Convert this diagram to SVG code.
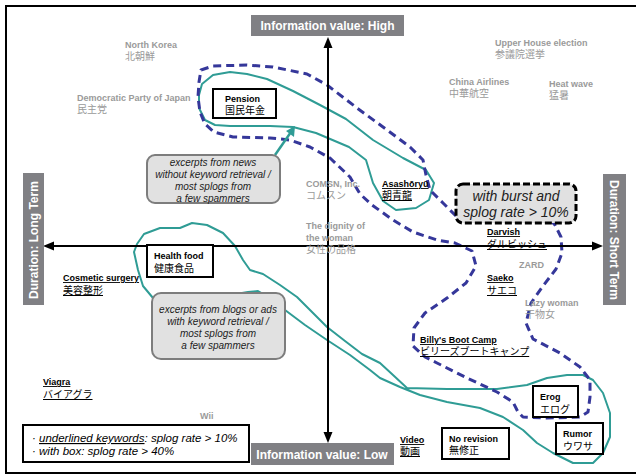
<svg xmlns="http://www.w3.org/2000/svg" width="636" height="475" viewBox="0 0 636 475">
<style>
text{font-family:"Liberation Sans","Noto Sans CJK JP",sans-serif}
.ge{font-size:9px;font-weight:bold;fill:#9a9a9a}
.gj{font-size:10px;fill:#9a9a9a}
.be{font-size:9px;font-weight:bold;fill:#000}
.bj{font-size:10px;fill:#000}
.u{text-decoration:underline}
.ax{fill:#808084}
.axt{font-size:12px;font-weight:bold;fill:#fff}
.box{fill:#fff;stroke:#000;stroke-width:2}
.call{fill:#e1e1e1;stroke:#7d7d7d;stroke-width:2}
.ct{font-size:10px;font-style:italic;fill:#222;text-anchor:middle}
.teal{fill:none;stroke:#2f9c95;stroke-width:2;stroke-linejoin:round}
.dash{fill:none;stroke:#35379a;stroke-width:3;stroke-dasharray:8 5;stroke-linejoin:round}
</style>
<rect x="6" y="6" width="640" height="467" fill="#fff" stroke="#000" stroke-width="2"/>
<g id="connectors">
<path class="teal" d="M199,95 L202,84 L213,75 L230,72 L247,74 L267,79 L293,91 L320,105 L346,119 L373,140 L403,158 L426,170 L434,183 L429,200 L416,208 L396,210 L383,201 L373,183 L366,160 L349,147 L316,133 L293,127 L270,126 L230,126 L215,125 L205,120 L199,108 Z"/>
<path class="teal" d="M134,252 L137,244 L144,234 L160,228 L180,228 L192,223 L207,225 L223,233 L235,246 L243,260 L250,270 L263,274 L280,285 L297,297 L312,312 L327,327 L345,341 L362,354 L380,363 L393,375 L407,388 L447,389 L497,389 L527,385 L547,378 L567,375 L583,375 L593,380 L603,393 L610,413 L610,437 L603,453 L593,463 L573,463 L553,453 L537,443 L523,430 L503,417 L480,408 L447,402 L420,395 L400,387 L380,378 L370,370 L350,355 L327,340 L305,325 L285,310 L270,298 L258,291 L248,292 L200,300 L153,298 L143,286 L138,270 Z"/>
<path class="dash" d="M456,216 L443,203 L430,190 L426,175 L423,160 L410,147 L383,127 L357,108 L327,85 L307,74 L273,67 L247,65 L213,66 L201,70 L199,82 L198,97 L200,112 L205,124 L214,132 L233,137 L270,138 L290,140 L310,147 L330,158 L350,177 L360,194 L372,205 L393,220 L413,232 L437,240 L455,243 L472,251 L476,266 L466,283 L447,298 L425,313 L414,328 L413,346 L425,357 L437,363 L467,378 L497,392 L513,402 L518,412 L523,417 L547,418 L580,417 L588,412 L590,397 L590,380 L580,367 L560,353 L533,339 L526,323 L531,303 L543,286 L556,269 L562,253 L561,237 L555,225 L552,222 Z"/>
<line x1="275" y1="155" x2="291" y2="132" stroke="#2f9c95" stroke-width="2.5"/>
<polygon points="295,126 294,137 286,131" fill="#2f9c95"/>
<line x1="50" y1="246" x2="596" y2="246" stroke="#000" stroke-width="2"/>
<polygon points="43,246 54,241.5 54,250.5" fill="#000"/>
<polygon points="603,246 592,241.5 592,250.5" fill="#000"/>
<line x1="328" y1="44" x2="328" y2="436" stroke="#000" stroke-width="2"/>
<polygon points="328,37 323.5,48 332.5,48" fill="#000"/>
<polygon points="328,443 323.5,432 332.5,432" fill="#000"/>
</g>
<g id="axis-high"><rect class="ax" x="251" y="15" width="153" height="21"/><text class="axt" x="327.5" y="30" text-anchor="middle">Information value: High</text></g>
<g id="axis-low"><rect class="ax" x="251" y="443" width="143" height="22"/><text class="axt" x="322" y="458.5" text-anchor="middle">Information value: Low</text></g>
<g id="axis-long"><rect class="ax" x="23" y="173" width="21" height="132"/><text class="axt" transform="translate(38,240) rotate(-90)" text-anchor="middle">Duration: Long Term</text></g>
<g id="axis-short"><rect class="ax" x="603" y="174" width="23" height="131"/><text class="axt" transform="translate(610,240) rotate(90)" text-anchor="middle">Duration: Short Term</text></g>
<g id="north-korea"><text class="ge" x="125" y="48">North Korea</text><text class="gj" x="125" y="60">北朝鮮</text></g>
<g id="democratic-party"><text class="ge" x="77" y="101">Democratic Party of Japan</text><text class="gj" x="77" y="113">民主党</text></g>
<g id="upper-house"><text class="ge" x="495" y="46">Upper House election</text><text class="gj" x="495" y="58">参議院選挙</text></g>
<g id="china-airlines"><text class="ge" x="449" y="85">China Airlines</text><text class="gj" x="449" y="97">中華航空</text></g>
<g id="heat-wave"><text class="ge" x="549" y="87">Heat wave</text><text class="gj" x="549" y="99">猛暑</text></g>
<g id="comsn"><text class="ge" x="306" y="187">COMSN, Inc.</text><text class="gj" x="306" y="199">コムスン</text></g>
<g id="dignity"><text class="ge" x="306" y="229">The dignity of</text><text class="ge" x="306" y="241">the woman</text><text class="gj" x="306" y="253">女性の品格</text></g>
<g id="zard"><text class="ge" x="519" y="268">ZARD</text></g>
<g id="lazy-woman"><text class="ge" x="525" y="306">Lazy woman</text><text class="gj" x="525" y="318">干物女</text></g>
<g id="wii"><text class="ge" x="200" y="419">Wii</text></g>
<g id="asashoryu"><text class="be u" x="382" y="187">Asashōryū</text><text class="bj u" x="382" y="199">朝青龍</text></g>
<g id="darvish"><text class="be u" x="487" y="235">Darvish</text><text class="bj u" x="487" y="248">ダルビッシュ</text></g>
<g id="saeko"><text class="be u" x="487" y="281">Saeko</text><text class="bj u" x="487" y="294">サエコ</text></g>
<g id="billys"><text class="be u" x="420" y="343">Billy's Boot Camp</text><text class="bj u" x="420" y="355">ビリーズブートキャンプ</text></g>
<g id="cosmetic"><text class="be u" x="63" y="281">Cosmetic surgery</text><text class="bj u" x="63" y="294">美容整形</text></g>
<g id="viagra"><text class="be u" x="43" y="385">Viagra</text><text class="bj u" x="43" y="398">バイアグラ</text></g>
<g id="video"><text class="be u" x="400" y="443">Video</text><text class="bj u" x="400" y="455">動画</text></g>
<g id="pension"><rect class="box" x="213" y="89" width="63" height="29"/><text class="be" x="225" y="102">Pension</text><text class="bj" x="225" y="114">国民年金</text></g>
<g id="health-food"><rect class="box" x="147" y="245" width="66" height="32"/><text class="be" x="154" y="259">Health food</text><text class="bj" x="154" y="272">健康食品</text></g>
<g id="erog"><rect class="box" x="533" y="386" width="45" height="31"/><text class="be" x="540" y="400">Erog</text><text class="bj" x="540" y="413">エログ</text></g>
<g id="rumor"><rect class="box" x="556" y="423" width="47" height="31"/><text class="be" x="563" y="437">Rumor</text><text class="bj" x="563" y="450">ウワサ</text></g>
<g id="no-revision"><rect class="box" x="442" y="428" width="67" height="31"/><text class="be" x="449" y="442">No revision</text><text class="bj" x="449" y="454">無修正</text></g>
<g id="callout-news"><rect class="call" x="147" y="155" width="133" height="48" rx="8"/><text class="ct" x="213" y="166">excerpts from news</text><text class="ct" x="213" y="178">without keyword retrieval /</text><text class="ct" x="213" y="190">most splogs from</text><text class="ct" x="213" y="202">a few spammers</text></g>
<g id="callout-blogs"><rect class="call" x="152" y="293" width="133" height="66" rx="9"/><text class="ct" x="218" y="313">excerpts from blogs or ads</text><text class="ct" x="218" y="325">with keyword retrieval /</text><text class="ct" x="218" y="337">most splogs from</text><text class="ct" x="218" y="349">a few spammers</text></g>
<g id="callout-burst"><rect x="456" y="184" width="120" height="39" rx="7" fill="#e1e1e1" stroke="#000" stroke-width="3" stroke-dasharray="7 3"/><text class="ct" x="516" y="201" style="font-size:14px">with burst and</text><text class="ct" x="516" y="217" style="font-size:14px">splog rate &gt; 10%</text></g>
<g id="legend"><rect class="box" x="23" y="425" width="226" height="37"/><text x="32" y="442" style="font-size:11.5px;font-style:italic">· <tspan class="u">underlined keywords</tspan>: splog rate &gt; 10%</text><text x="32" y="455" style="font-size:11.5px;font-style:italic">· with box: splog rate &gt; 40%</text></g>
</svg>
